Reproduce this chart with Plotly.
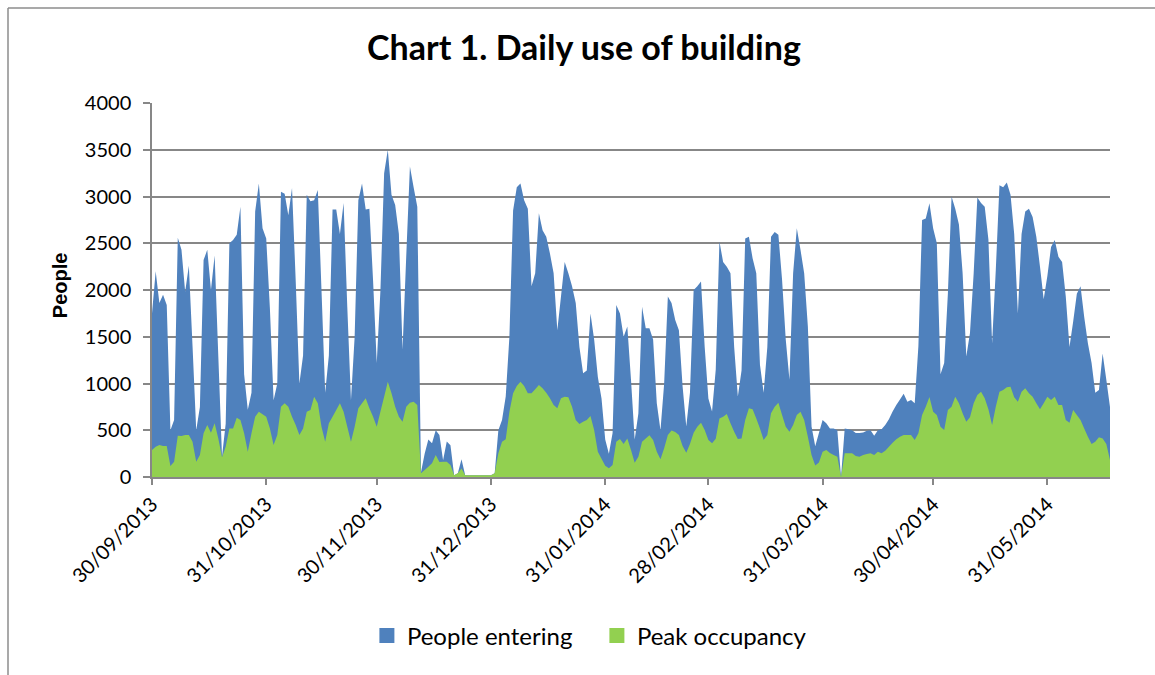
import pandas as pd
import plotly.graph_objects as go

start_date = "2013-09-30"

# People entering per day (weeks Mon..Sun)
people_entering = [
    1750, 2200, 1860, 1950, 1840, 500, 610,
    2560, 2430, 1980, 2260, 1400, 500, 750,
    2320, 2430, 2000, 2370, 1290, 220, 570,
    2500, 2535, 2590, 2890, 1100, 720, 900,
    2840, 3140, 2660, 2550, 1800, 820, 1000,
    3050, 3030, 2800, 3090, 2100, 1000, 1300,
    3020, 2950, 2960, 3070, 2000, 900, 1300,
    2860, 2860, 2600, 2930, 1820, 820, 1500,
    2960, 3140, 2860, 2870, 2100, 1220, 2000,
    3250, 3500, 3020, 2910, 2600, 1360, 2360,
    3320, 3100, 2890, 50, 250, 400, 360,
    500, 450, 180, 380, 340, 20, 40,
    190, 20, 20, 20, 20, 20, 20,
    20, 20, 40, 500, 610, 860, 1500,
    2850, 3100, 3140, 2960, 2870, 2040, 2180,
    2820, 2640, 2570, 2390, 2180, 1570, 1930,
    2300, 2180, 2040, 1860, 1390, 1110, 1140,
    1750, 1470, 1070, 840, 400, 250, 470,
    1840, 1750, 1500, 1610, 1040, 400, 680,
    1820, 1590, 1590, 1470, 790, 500, 1000,
    1930, 1860, 1680, 1570, 970, 540, 900,
    2000, 2040, 2090, 1390, 840, 700, 1150,
    2520, 2300, 2250, 2180, 1390, 860, 1140,
    2550, 2570, 2340, 2180, 1200, 900, 1390,
    2570, 2620, 2590, 2110, 1470, 1040, 2180,
    2660, 2430, 2180, 1610, 540, 330, 470,
    610, 575, 520, 520, 500, 0, 520,
    510, 500, 470, 470, 475, 495, 500,
    440, 500, 510, 556, 617, 700, 770,
    830, 890, 806, 823, 790, 1400, 2750,
    2766, 2927, 2660, 2500, 1100, 1220, 1960,
    3000, 2870, 2700, 2180, 1290, 1540, 2180,
    2990, 2930, 2890, 2540, 1430, 2210, 3120,
    3100, 3150, 3020, 2600, 1750, 2600, 2840,
    2870, 2780, 2570, 2250, 1900, 2150, 2460,
    2535, 2356, 2300, 1930, 1390, 1660, 1960,
    2040, 1710, 1430, 1220, 900, 930, 1320,
    1040, 750,
]

# Peak occupancy per day (weeks Mon..Sun)
peak_occupancy = [
    290, 324, 342, 331, 331, 118, 164,
    442, 438, 449, 449, 378, 164, 235,
    467, 556, 474, 574, 413, 210, 324,
    520, 520, 634, 610, 467, 271, 467,
    645, 699, 670, 645, 520, 342, 449,
    752, 788, 752, 645, 556, 449, 520,
    699, 717, 859, 788, 538, 378, 574,
    645, 717, 788, 699, 538, 378, 538,
    734, 788, 841, 734, 645, 538, 700,
    859, 1020, 895, 752, 645, 592, 752,
    795, 806, 770, 39, 75, 110, 146,
    235, 160, 164, 164, 128, 20, 40,
    90, 20, 20, 20, 20, 20, 20,
    20, 20, 40, 253, 378, 403, 699,
    895, 973, 1020, 973, 895, 895, 938,
    984, 948, 902, 841, 770, 734, 841,
    859, 852, 752, 610, 567, 592, 610,
    652, 503, 271, 195, 120, 93, 128,
    378, 406, 353, 413, 289, 153, 217,
    378, 413, 446, 396, 271, 189, 307,
    449, 496, 481, 449, 331, 260, 353,
    474, 538, 581, 503, 395, 360, 408,
    627, 645, 674, 574, 485, 406, 413,
    610, 734, 724, 627, 520, 396, 449,
    681, 752, 795, 663, 538, 485, 556,
    663, 699, 610, 431, 235, 123, 155,
    271, 289, 258, 235, 217, 0, 253,
    253, 253, 225, 217, 235, 246, 253,
    235, 271, 253, 282, 324, 367, 403,
    431, 449, 449, 449, 396, 467, 663,
    752, 855, 699, 663, 538, 503, 717,
    752, 859, 788, 681, 592, 638, 788,
    877, 913, 841, 724, 556, 752, 913,
    930, 959, 966, 852, 806, 913, 948,
    895, 859, 788, 724, 788, 859, 823,
    859, 770, 770, 610, 581, 717, 663,
    610, 520, 431, 353, 378, 424, 413,
    353, 182,
]

tick_dates = ["2013-09-30", "2013-10-31", "2013-11-30", "2013-12-31", "2014-01-31",
              "2014-02-28", "2014-03-31", "2014-04-30", "2014-05-31"]
y_ticks = [0, 500, 1000, 1500, 2000, 2500, 3000, 3500, 4000]

series_names = ["People entering", "Peak occupancy"]
series_colors = ["#4F81BD", "#92D050"]

dates = pd.date_range(start_date, periods=len(people_entering), freq="D")

fig = go.Figure()
for name, vals, col in zip(series_names, [people_entering, peak_occupancy], series_colors):
    fig.add_trace(go.Scatter(
        x=dates, y=vals, mode="none", fill="tozeroy", fillcolor=col,
        name=name, showlegend=False, hoverinfo="x+y",
    ))
    fig.add_trace(go.Scatter(
        x=[None], y=[None], mode="markers", name=name,
        marker=dict(symbol="square", size=15, color=col),
        showlegend=True,
    ))

grid = "#878787"
border = dict(color="#8c8c8c", width=1.5)
fig.update_layout(
    width=1155, height=675, autosize=False,
    paper_bgcolor="white", plot_bgcolor="white",
    margin=dict(l=152, r=45, t=103, b=198),
    font=dict(family="Lato", color="black"),
    title=dict(text="<b>Chart 1. Daily use of building</b>", font=dict(size=34, family="Lato"),
               x=584 / 1155, xanchor="center", y=1 - 48 / 675, yanchor="middle",
               xref="container", yref="container"),
    legend=dict(orientation="h", x=0.4644, xanchor="center", y=-0.425, yanchor="middle",
                font=dict(size=24, family="Lato"), itemsizing="trace",
                traceorder="normal", entrywidth=185, entrywidthmode="pixels"),
    xaxis=dict(
        type="date", range=[dates[0], dates[-1]],
        tickvals=tick_dates, tickformat="%d/%m/%Y", tickangle=-45,
        tickfont=dict(size=20, family="Lato"),
        showgrid=False, showline=True, linecolor=grid, linewidth=1.5,
        ticks="outside", ticklen=6, tickcolor=grid, tickwidth=1.5,
    ),
    yaxis=dict(
        range=[0, 4000], tickvals=y_ticks,
        tickfont=dict(size=20, family="Lato"),
        showgrid=True, gridcolor=grid, gridwidth=1.5,
        showline=True, linecolor=grid, linewidth=1.5,
        ticks="outside", ticklen=7, tickcolor=grid, tickwidth=1.5,
        ticklabelstandoff=8,
        zeroline=False,
    ),
    annotations=[dict(
        text="<b>People</b>", textangle=-90, xref="paper", yref="paper",
        x=(60 - 152) / 958, y=0.513, xanchor="center", yanchor="middle",
        showarrow=False, font=dict(size=20, family="Liberation Sans"),
    )],
    shapes=[
        dict(type="line", xref="paper", yref="paper",
             x0=-144 / 958, x1=1.1, y0=469 / 374, y1=469 / 374, line=border, layer="below"),
        dict(type="line", xref="paper", yref="paper",
             x0=-144 / 958, x1=-144 / 958, y0=-0.6, y1=469 / 374, line=border, layer="below"),
    ],
)

fig.write_html(
    "out.html", config={"displayModeBar": False},
    post_script=("document.documentElement.style.overflow='hidden';"
                 "document.body.style.margin='0';document.body.style.overflow='hidden';"),
)
